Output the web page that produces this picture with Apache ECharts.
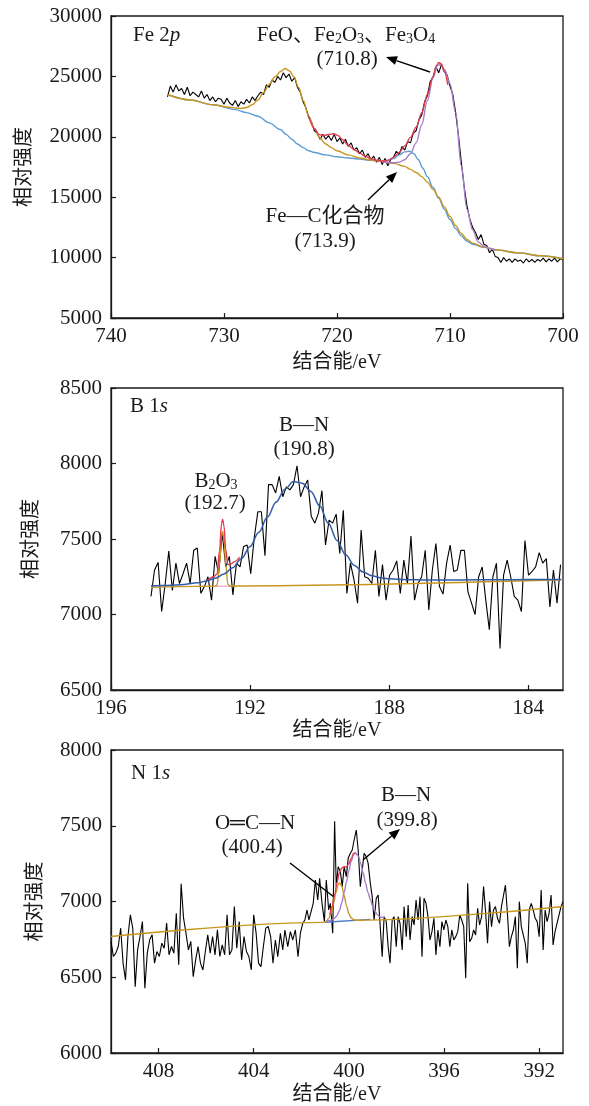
<!DOCTYPE html>
<html>
<head>
<meta charset="utf-8">
<script src="https://cdn.jsdelivr.net/npm/echarts@6/dist/echarts.min.js"></script>
<style>
  html, body { margin: 0; background: #fff; }
  #chart { width: 589px; height: 1106px; }
</style>
</head>
<body>
<div id="chart"></div>
<script>
// ---------- Fe 2p ----------
const feStart = 735, feStep = 0.25;
const feRaw = [
  23300, 24200, 23700, 24300, 23800, 24000, 23500, 24100, 23400, 23700,
  23500, 23300, 23800, 23200, 23500, 23000, 23300, 22900, 23200, 23100,
  22700, 23200, 22800, 22600, 23000, 22500, 22900, 22700, 23100, 22800,
  23300, 23000, 23400, 23700, 23500, 24300, 24100, 24700, 24500, 25000,
  24700, 25300, 24900, 25200, 24600, 24900, 24100, 23700, 22900, 22400,
  21600, 21200, 20500, 20300, 19800, 20200, 19800, 20100, 19700, 20200,
  19600, 19900, 19400, 19800, 19200, 19500, 18900, 19100, 18600, 18900,
  18300, 18600, 18100, 18400, 17900, 18300, 17700, 18200, 17600, 18100,
  18300, 18800, 18500, 19200, 18900, 19600, 19500, 20300, 20500, 21400,
  21800, 22900, 23400, 24600, 24900, 25800, 25300, 26000, 25400, 25100,
  24200, 23500, 22000, 20100, 17900, 15900, 14300, 13200, 12500, 12100,
  11500, 11900, 11100, 11000, 10400, 10700, 10100, 10000, 9600, 10000,
  9700, 9900, 9600, 9900, 9700, 9800, 9550, 9900, 9650, 9850,
  9600, 9850, 9700, 9950, 9650, 9900, 9700, 9950, 9650, 9900, 9800
];
const feBlueE = [735, 733, 731, 729, 728, 727, 726, 725, 724.5, 724, 723.5, 723, 722.5, 722, 721, 720, 719, 718, 717, 716,
  715.5, 715, 714.5, 714, 713.6, 713.2, 712.8, 712.4, 712, 711.5, 711, 710.5, 710, 709.5, 709, 708.5, 708, 707, 706, 704, 702, 700];
const feBlueI = [23500, 23050, 22650, 22250, 22000, 21700, 21150, 20600, 20200, 19800, 19400, 19100, 18850, 18700, 18500, 18350, 18250, 18150, 18050, 17980,
  18050, 18200, 18500, 18750, 18800, 18600, 18100, 17400, 16700, 15800, 14900, 14000, 13150, 12400, 11800, 11350, 11100, 10850, 10650, 10400, 10150, 9900];
const feOrangeE = [735, 733, 731, 729.5, 729, 728.5, 728, 727.5, 727, 726.5, 726, 725.5, 725, 724.6, 724.2, 723.8, 723.4, 723, 722.5, 722,
  721.5, 721, 720.5, 720, 719, 718, 717, 716, 715, 714, 713.5, 713, 712.5, 712, 711.5, 711, 710.5, 710, 709.5, 709, 708.5, 708, 707, 706, 704, 702, 700];
const feOrangeI = [23500, 23050, 22650, 22450, 22380, 22350, 22420, 22650, 23050, 23650, 24350, 24950, 25400, 25650, 25450, 24950, 24100, 23000, 21700, 20700,
  19900, 19400, 19100, 18850, 18500, 18250, 18080, 17950, 17800, 17550, 17300, 17050, 16700, 16250, 15650, 15000, 14200, 13400, 12650, 12000, 11500, 11200, 10870, 10650, 10400, 10150, 9900];
const feRedE = [722.5, 722, 721.6, 721.2, 720.7, 720.3, 719.9, 719.5, 719, 718.5, 718, 717.5, 717, 716.5, 716, 715.5, 715, 714.5, 714, 713.5,
  713, 712.5, 712, 711.5, 711.2, 711, 710.8, 710.5, 710.2];
const feRedI = [21700, 20700, 20200, 20100, 20200, 20250, 20100, 19750, 19300, 18950, 18650, 18400, 18200, 18050, 17980, 18050, 18300, 18700, 19250, 19950,
  20800, 22000, 23500, 25000, 25900, 26150, 26050, 25400, 24300];
const fePurpleE = [716, 715, 714.5, 714, 713.5, 713, 712.5, 712, 711.5, 711.1, 710.8, 710.5, 710, 709.5, 709, 708.5, 708, 707.5, 707, 706.5, 706];
const fePurpleI = [17950, 17850, 17900, 18100, 18600, 19500, 21000, 23000, 24900, 25900, 26000, 25600, 24400, 22000, 17600, 14000, 12300, 11300, 10950, 10780, 10650];

// ---------- B 1s ----------
const bFrom = 194.85, bTo = 183.07;
const bRaw = [
  7120, 7295, 7345, 7020, 7205, 7420, 7160, 7340, 7205, 7270,
  7340, 7205, 7425, 7440, 7140, 7185, 7250, 7095, 7385, 7270,
  7540, 7315, 7385, 7130, 7340, 7315, 7450, 7460, 7270, 7510,
  7680, 7680, 7390, 7860, 7860, 7805, 7915, 7780, 7845, 7825,
  7860, 7985, 7780, 7845, 7890, 7650, 7605, 7670, 7820, 7460,
  7625, 7605, 7665, 7405, 7690, 7140, 7340, 7230, 7075, 7560,
  7250, 7240, 7205, 7425, 7120, 7330, 7095, 7260, 7295, 7355,
  7140, 7360, 7205, 7520, 7095, 7205, 7250, 7425, 7030, 7295,
  7470, 7185, 7135, 7340, 7460, 7285, 7295, 7425, 7425, 7150,
  7075, 7000, 7250, 7315, 7095, 6900, 7250, 7340, 6775, 7260,
  7360, 7250, 7120, 7095, 7020, 7490, 7260, 7285, 7315, 7410,
  7340, 7370, 7050, 7295, 7075, 7330
];
const bBlueE = [194.85, 194.5, 194, 193.5, 193.25, 193, 192.75, 192.5, 192.25, 192, 191.75, 191.5, 191.25, 191, 190.75, 190.5,
  190.25, 190, 189.75, 189.5, 189.25, 189, 188.75, 188.5, 188.25, 188, 187.5, 187, 186, 185, 184, 183.05];
const bBlueI = [7190, 7192, 7197, 7210, 7222, 7240, 7268, 7310, 7370, 7450, 7545, 7645, 7745, 7830, 7880, 7870,
  7815, 7720, 7605, 7490, 7395, 7325, 7282, 7257, 7243, 7236, 7230, 7229, 7229, 7230, 7231, 7232];
const bOrangeE = [194.85, 193.0, 192.95, 192.88, 192.82, 192.79, 192.75, 192.7, 192.64, 192.58, 183.05];
const bOrangeI = [7180, 7188, 7195, 7330, 7520, 7550, 7500, 7330, 7200, 7189, 7230];
const bRedE = [193.2, 193.05, 192.95, 192.88, 192.82, 192.79, 192.75, 192.7, 192.64, 192.55, 192.45, 192.3];
const bRedI = [7230, 7250, 7268, 7420, 7605, 7630, 7585, 7430, 7330, 7335, 7350, 7380];
const bPinkE = [193.02, 192.55];
const bPinkI = [7186, 7188];

// ---------- N 1s ----------
const nRawA = [ // 410.0 -> 403.29 eV
  6736, 6637, 6659, 6703, 6824, 6593, 6483, 6769, 6912, 6824,
  6438, 6681, 6769, 6868, 6427, 6659, 6747, 6780, 6593, 6670,
  6637, 6725, 6692, 6857, 6648, 6703, 6659, 6923, 6582, 7117,
  6890, 6791, 6681, 6736, 6504, 6615, 6703, 6593, 6548, 6670,
  6780, 6659, 6769, 6648, 6813, 6637, 6714, 6648, 6912, 6648,
  6681, 6967, 6692, 6868, 6615, 6769, 6670, 6637, 6548, 6912,
  6791, 6593, 6570, 6703, 6824, 6835, 6769
];
const nEnergyB = [
  403.19, 403.09, 402.99, 402.88, 402.78, 402.69, 402.57, 402.46, 402.36, 402.25,
  402.14, 402.04, 401.94, 401.85, 401.76, 401.68, 401.59, 401.50, 401.41, 401.31,
  401.23, 401.13, 401.03, 400.95, 400.85, 400.78, 400.68, 400.60, 400.53, 400.45,
  400.36, 400.28, 400.20, 400.11, 400.03, 399.94, 399.86, 399.78, 399.69, 399.61,
  399.52, 399.44, 399.36, 399.27, 399.19, 399.10, 399.02, 398.94, 398.85, 398.77,
  398.69, 398.60, 398.52, 398.43, 398.35, 398.27, 398.18, 398.10, 398.01, 397.93,
  397.85, 397.76, 397.68, 397.59, 397.51, 397.43, 397.34
];
const nRawB = [
  6592, 6746, 6636, 6790, 6680, 6812, 6702, 6801, 6746, 6812,
  6636, 6790, 6856, 6878, 6944, 6878, 6933, 6988, 7142, 7010,
  7153, 6988, 6867, 7142, 6944, 6988, 6790, 7530, 7098, 7230,
  7197, 7098, 7230, 7164, 7285, 7318, 7340, 7406, 7472, 7340,
  7098, 7208, 7318, 7296, 7252, 7120, 7032, 6878, 7021, 7043,
  7032, 6636, 6900, 6867, 6702, 6592, 6878, 6900, 6702, 6900,
  6856, 6680, 6966, 6768, 6977, 6746, 6900
];
const nRawC = [ // 397.26 -> 391.0 eV
  6845, 7010, 6878, 7032, 6636, 7021, 6988, 6900, 6746, 6801,
  6889, 6647, 6812, 6702, 6867, 6812, 6878, 6834, 6702, 6812,
  6746, 6768, 6801, 6911, 6878, 6834, 6493, 7120, 6735, 6757,
  6812, 6779, 6955, 6845, 6900, 7098, 6933, 6724, 6999, 6834,
  6944, 6966, 6889, 6856, 6966, 6955, 7109, 6922, 6702, 6768,
  6812, 6900, 6559, 6999, 6834, 6823, 6724, 6592, 6944, 6988,
  6944, 6889, 6867, 6768, 7076, 6680, 6944, 6867, 6922, 7043,
  6713, 6801, 6856, 6911, 6966, 6999
];
const nOrangeE = [410, 401.1, 400.95, 400.85, 400.75, 400.65, 400.55, 400.45, 400.39, 400.3, 400.2, 400.1, 400.0, 399.9, 399.8, 399.7, 391];
const nOrangeI = [6769, 6862, 6870, 6887, 6923, 6984, 7057, 7112, 7123, 7102, 7040, 6970, 6918, 6891, 6880, 6876, 6967];
const nPurpleE = [400.95, 400.8, 400.7, 400.6, 400.5, 400.4, 400.3, 400.2, 400.1, 400.0, 399.9, 399.8, 399.72,
  399.6, 399.5, 399.4, 399.3, 399.2, 399.1, 399.0, 398.9, 398.8, 398.7, 398.6, 398.5];
const nPurpleI = [6871, 6874, 6880, 6890, 6908, 6940, 6990, 7060, 7130, 7205, 7268, 7312, 7320,
  7300, 7248, 7190, 7120, 7060, 7015, 6970, 6935, 6912, 6900, 6895, 6896];
const nRedE = [400.8, 400.7, 400.6, 400.5, 400.4, 400.3, 400.2, 400.1, 400.0, 399.9, 399.8, 399.72];
const nRedI = [6915, 6967, 7043, 7125, 7189, 7222, 7229, 7228, 7250, 7285, 7317, 7320];
const nBlueE = [401.0, 399.1];
const nBlueI = [6863, 6882];

// tick labels
const feTicksX = [740, 730, 720, 710, 700];
const bTicksX = [196, 192, 188, 184];
const nTicksX = [408, 404, 400, 396, 392];

const pairs = (xs, ys) => xs.map((x, i) => [x, ys[i]]);
const spread = (from, to, ys) => ys.map((y, i) => [from + (to - from) * i / (ys.length - 1), y]);

const serif = "'Liberation Serif', 'Times New Roman', 'Noto Sans CJK SC', serif";
const ink = '#1a1a1a';
const C = { blue: '#5b9bd5', orange: '#c8961e', red: '#e23b50', purple: '#a77cc9', pink: '#eba6d2', navy: '#2f5aa8' };
const FS = 21;

const xAxisBase = (min, max, ticks, gap) => ({
  type: 'value', inverse: true, min, max,
  axisLine: { show: true, lineStyle: { color: ink, width: 1.3 } },
  axisTick: { inside: true, length: 5, customValues: ticks, lineStyle: { color: ink, width: 1.2 } },
  axisLabel: { customValues: ticks, color: ink, fontSize: FS, fontFamily: serif, margin: 8, formatter: v => String(v) },
  splitLine: { show: false },
  name: '结合能/eV', nameLocation: 'middle', nameGap: gap,
  nameTextStyle: { color: ink, fontSize: 20, fontFamily: serif }
});
const yAxisBase = (min, max, interval, gap) => ({
  type: 'value', min, max, interval,
  axisLine: { show: true, lineStyle: { color: ink, width: 1.3 } },
  axisTick: { inside: true, length: 5, lineStyle: { color: ink, width: 1.2 } },
  axisLabel: { color: ink, fontSize: FS, fontFamily: serif, margin: 9, showMinLabel: true, showMaxLabel: true, formatter: v => String(v) },
  splitLine: { show: false },
  name: '相对强度', nameLocation: 'middle', nameGap: gap, nameRotate: 90,
  nameTextStyle: { color: ink, fontSize: 20, fontFamily: serif }
});

const line = (k, data, color, width, z) => ({
  type: 'line', xAxisIndex: k, yAxisIndex: k, data, showSymbol: false, silent: true,
  lineStyle: { color, width }, itemStyle: { color }, z: z || 2
});

const rich = {
  n: { fontSize: FS, fontFamily: serif, color: ink, lineHeight: 23 },
  i: { fontSize: FS, fontFamily: serif, color: ink, fontStyle: 'italic', lineHeight: 23 },
  s: { fontSize: 14, fontFamily: serif, color: ink, lineHeight: 11, verticalAlign: 'bottom' }
};
const text = (x, y, str, align) => ({
  type: 'text', x, y, silent: true,
  style: { text: str, rich, align: align || 'center', verticalAlign: 'middle', fontSize: FS, fontFamily: serif, fill: ink }
});
function arrow(x1, y1, x2, y2, head) {
  const a = Math.atan2(y2 - y1, x2 - x1), L = head ? 11 : 0, W = 4.5;
  const bx = x2 - L * Math.cos(a), by = y2 - L * Math.sin(a);
  const els = [{ type: 'line', silent: true, shape: { x1, y1, x2: bx, y2: by }, style: { stroke: '#000', lineWidth: 1.4 } }];
  if (head) {
    els.push({ type: 'polygon', silent: true,
      shape: { points: [[x2, y2], [bx + W * Math.sin(a), by - W * Math.cos(a)], [bx - W * Math.sin(a), by + W * Math.cos(a)]] },
      style: { fill: '#000' } });
  }
  return els;
}

const rawIdx = [0, 5, 10];
const series = [
  line(0, feRaw.map((v, i) => [feStart - i * feStep, v]), '#000', 1.1, 2),
  line(0, pairs(feBlueE, feBlueI), C.blue, 1.4, 3),
  line(0, pairs(feOrangeE, feOrangeI), C.orange, 1.4, 4),
  line(0, pairs(fePurpleE, fePurpleI), C.purple, 1.4, 4),
  line(0, pairs(feRedE, feRedI), C.red, 1.4, 5),

  line(1, spread(bFrom, bTo, bRaw), '#000', 1.1, 2),
  line(1, pairs(bPinkE, bPinkI), C.pink, 1.2, 3),
  line(1, pairs(bOrangeE, bOrangeI), C.orange, 1.4, 3),
  line(1, pairs(bRedE, bRedI), C.red, 1.4, 4),
  line(1, pairs(bBlueE, bBlueI), C.navy, 1.5, 5),

  line(2, spread(410, 403.29, nRawA).concat(pairs(nEnergyB, nRawB), spread(397.26, 391, nRawC)), '#000', 1.1, 2),
  line(2, pairs(nBlueE, nBlueI), '#4a78c8', 1.4, 3),
  line(2, pairs(nOrangeE, nOrangeI), C.orange, 1.4, 4),
  line(2, pairs(nPurpleE, nPurpleI), C.purple, 1.4, 4),
  line(2, pairs(nRedE, nRedI), C.red, 1.4, 5)
].map((s, i) => Object.assign(s, rawIdx.includes(i) ? { smooth: false } : { smooth: 0.35, smoothMonotone: 'x' }));

const chart = echarts.init(document.getElementById('chart'));
chart.setOption({
  animation: false,
  backgroundColor: '#fff',
  grid: [
    { left: 111, top: 16, width: 452, height: 302, show: true, borderColor: ink, borderWidth: 1.3 },
    { left: 111, top: 388, width: 452, height: 302, show: true, borderColor: ink, borderWidth: 1.3 },
    { left: 111, top: 750, width: 452, height: 303, show: true, borderColor: ink, borderWidth: 1.3 }
  ],
  xAxis: [
    Object.assign(xAxisBase(700, 740, feTicksX, 35), { gridIndex: 0 }),
    Object.assign(xAxisBase(183, 196, bTicksX, 31), { gridIndex: 1 }),
    Object.assign(xAxisBase(391, 410, nTicksX, 32), { gridIndex: 2 })
  ],
  yAxis: [
    Object.assign(yAxisBase(5000, 30000, 5000, 76), { gridIndex: 0 }),
    Object.assign(yAxisBase(6500, 8500, 500, 69), { gridIndex: 1 }),
    Object.assign(yAxisBase(6000, 8000, 500, 65), { gridIndex: 2 })
  ],
  series,
  graphic: { elements: [
    text(133, 35, '{n|Fe 2}{i|p}', 'left'),
    text(346, 35, '{n|FeO、Fe}{s|2}{n|O}{s|3}{n|、Fe}{s|3}{n|O}{s|4}'),
    text(347, 59, '{n|(710.8)}'),
    ...arrow(430, 72, 386, 57, true),
    text(325, 216, '{n|Fe—C化合物}'),
    text(325, 241, '{n|(713.9)}'),
    ...arrow(368, 200, 397, 172, true),

    text(130, 406, '{n|B 1}{i|s}', 'left'),
    text(304, 425, '{n|B—N}'),
    text(304, 449, '{n|(190.8)}'),
    text(216, 481, '{n|B}{s|2}{n|O}{s|3}'),
    text(215, 503, '{n|(192.7)}'),

    text(131, 773, '{n|N 1}{i|s}', 'left'),
    text(255, 823, '{n|O═C—N}'),
    text(252, 847, '{n|(400.4)}'),
    text(406, 795, '{n|B—N}'),
    text(407, 820, '{n|(399.8)}'),
    ...arrow(290, 863, 334, 897, false),
    ...arrow(363, 860, 400, 829, true)
  ] }
});
</script>
</body>
</html>
